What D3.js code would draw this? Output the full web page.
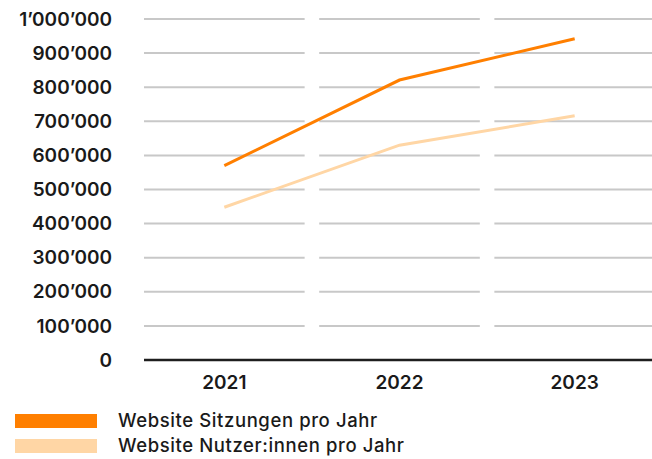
<!DOCTYPE html>
<html><head><meta charset="utf-8">
<script src="https://cdn.jsdelivr.net/npm/d3@7"></script>
<style>html,body{margin:0;padding:0;background:#fff;}svg{display:block;font-family:Inter,"Liberation Sans",Arial,sans-serif;}</style>
</head><body>
<svg id="c" width="652" height="459"></svg>
<script>
const years = ["2021", "2022", "2023"];
const sitzungen = [570000, 821000, 942000];
const nutzer = [448000, 630000, 716000];
const yTicks = [0,100000,200000,300000,400000,500000,600000,700000,800000,900000,1000000];
const seriesNames = ["Website Sitzungen pro Jahr", "Website Nutzer:innen pro Jahr"];
const seriesColors = ["#ff7f00", "#ffd6a5"];

const svg = d3.select("#c");
const x = d3.scaleBand().domain(years).range([144, 655]).paddingInner(0.083).paddingOuter(0);
const y = d3.scaleLinear().domain([0, 1000000]).range([360, 19]);
const fmt = v => v === 0 ? "0" : d3.format(",")(v).replace(/,/g, "\u2019");

// gridlines per band
const g = svg.append("g");
years.forEach(yr => {
  g.selectAll(null).data(yTicks.filter(t => t > 0)).enter().append("line")
    .attr("x1", x(yr)).attr("x2", x(yr) + x.bandwidth())
    .attr("y1", d => y(d)).attr("y2", d => y(d))
    .attr("stroke", "#c8c8c8").attr("stroke-width", 2);
});
// baseline
svg.append("line").attr("x1", 144).attr("x2", 652).attr("y1", y(0)).attr("y2", y(0))
  .attr("stroke", "#1e1e1e").attr("stroke-width", 2.5);

// y labels
svg.append("g").selectAll("text").data(yTicks).enter().append("text")
  .attr("x", 112).attr("y", d => y(d)).attr("dy", "0.35em").attr("text-anchor", "end")
  .attr("font-size", 19).attr("font-weight", 600).attr("fill", "#1a1a1a").text(fmt);

// x labels
svg.append("g").selectAll("text").data(years).enter().append("text")
  .attr("x", d => x(d) + x.bandwidth()/2).attr("y", 382).attr("dy", "0.35em").attr("text-anchor", "middle")
  .attr("font-size", 19).attr("font-weight", 600).attr("fill", "#1a1a1a").text(d => d);

const line = d3.line().x((d, i) => x(years[i]) + x.bandwidth()/2).y(d => y(d));
[nutzer, sitzungen].forEach((s, k) => {
  svg.append("path").datum(s).attr("d", line).attr("fill", "none")
    .attr("stroke", k === 0 ? seriesColors[1] : seriesColors[0]).attr("stroke-width", 3);
});

// legend
const lg = svg.append("g");
seriesNames.forEach((n, i) => {
  lg.append("rect").attr("x", 15).attr("y", 414 + i*25).attr("width", 82).attr("height", 14).attr("fill", seriesColors[i]);
  lg.append("text").attr("x", 118).attr("y", 421 + i*25).attr("dy", "0.35em")
    .attr("font-size", 18.5).attr("font-weight", 500).attr("letter-spacing", 0.6).attr("fill", "#1a1a1a").text(n);
});
</script>
</body></html>
